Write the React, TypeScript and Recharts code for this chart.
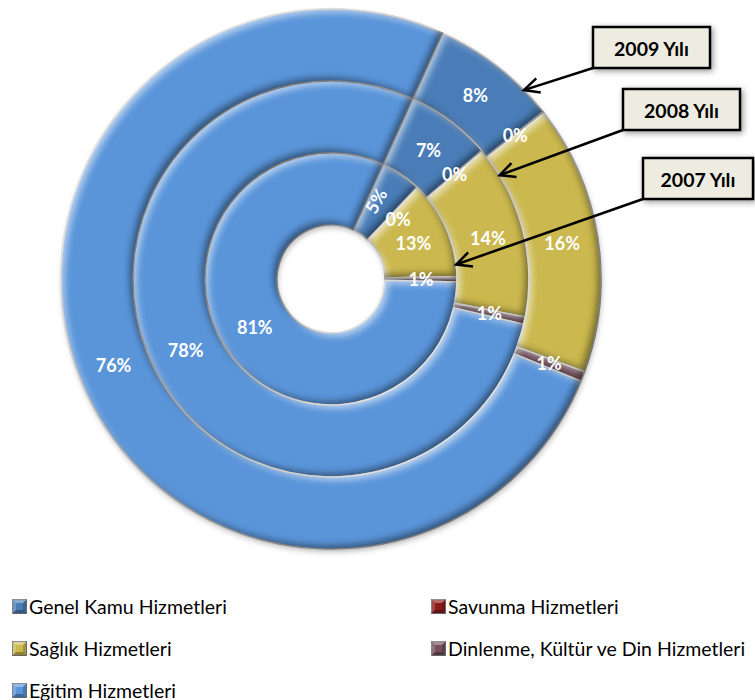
import React from 'react';
import { PieChart, Pie, Cell, Legend } from 'recharts';

// ---- data ----
const categories = [
  'Genel Kamu Hizmetleri',
  'Savunma Hizmetleri',
  'Sağlık Hizmetleri',
  'Dinlenme, Kültür ve Din Hizmetleri',
  'Eğitim Hizmetleri',
];
const values2007 = [5.2, 0.1, 12.6, 0.7, 81.4];
const values2008 = [7.0, 0.1, 14.2, 0.6, 78.1];
const values2009 = [7.6, 0.1, 16.1, 0.6, 75.6];
const yearLabels = ['2007 Yılı', '2008 Yılı', '2009 Yılı'];

// ---- style / layout ----
const colors = ['#4A7DB8', '#8C1A1A', '#CBB84E', '#74505C', '#5A95DA'];
const W = 755;
const H = 700;
const CX = 331;
const CY = 279;
const RINGS = [
  { inner: 54, outer: 126 },
  { inner: 126, outer: 198 },
  { inner: 198, outer: 270 },
];
const START = 90 - 24.4; // first slice begins 24.4deg clockwise from 12 o'clock
const FONT = 'Lato, "Liberation Sans", sans-serif';

const toRows = (vals: number[]) => categories.map((name, i) => ({ name, value: vals[i] }));
const ringData = [toRows(values2007), toRows(values2008), toRows(values2009)];

// callouts: year index, tip angle (deg clockwise from top), box
const callouts = [
  { year: 2, angle: 45.6, box: { x: 593, y: 27, w: 117, h: 41 } },
  { year: 1, angle: 58.4, box: { x: 623, y: 89, w: 117, h: 41 } },
  { year: 0, angle: 83.4, box: { x: 643, y: 158, w: 110, h: 41 } },
];

const RAD = Math.PI / 180;

const renderLabel = (props: any) => {
  const { cx, cy, midAngle, innerRadius, outerRadius, percent, startAngle, endAngle } = props;
  const r = (innerRadius + outerRadius) / 2;
  const pct = Math.round(percent * 100);
  const arc = Math.abs(endAngle - startAngle) * RAD * r;
  const rotate = pct >= 2 && arc < 40;
  const crowded = innerRadius < 100;
  let ang = midAngle;
  if (crowded && rotate) ang += 4; // nudge away from the neighbouring 0% label
  if (crowded && pct === 0 && arc < 1) ang -= 5;
  const x = cx + r * Math.cos(-ang * RAD);
  const y = cy + r * Math.sin(-ang * RAD);
  return (
    <text
      x={x}
      y={y}
      fill="#ffffff"
      textAnchor="middle"
      dominantBaseline="central"
      fontFamily={FONT}
      fontWeight="bold"
      fontSize={18}
      transform={rotate ? `rotate(${-ang} ${x} ${y})` : undefined}
    >
      {pct}%
    </text>
  );
};

const BevelDefs = () => (
  <svg width={0} height={0} style={{ position: 'absolute' }}>
    <defs>
      <filter id="bevel" x="-5%" y="-5%" width="110%" height="110%" colorInterpolationFilters="sRGB">
        <feGaussianBlur in="SourceAlpha" stdDeviation="3.5" result="b" />
        <feOffset in="b" dx="4" dy="4" result="bo1" />
        <feComposite in="SourceAlpha" in2="bo1" operator="out" result="hl" />
        <feFlood floodColor="#ffffff" floodOpacity="0.6" result="fw" />
        <feComposite in="fw" in2="hl" operator="in" result="hlc" />
        <feOffset in="b" dx="-4" dy="-4" result="bo2" />
        <feComposite in="SourceAlpha" in2="bo2" operator="out" result="sh" />
        <feFlood floodColor="#000000" floodOpacity="0.45" result="fb" />
        <feComposite in="fb" in2="sh" operator="in" result="shc" />
        <feMerge>
          <feMergeNode in="SourceGraphic" />
          <feMergeNode in="hlc" />
          <feMergeNode in="shc" />
        </feMerge>
      </filter>
      <filter id="ringShadow" x="-10%" y="-10%" width="120%" height="120%">
        <feGaussianBlur in="SourceAlpha" stdDeviation="3" />
        <feOffset dx="1" dy="3" result="o" />
        <feFlood floodColor="#000" floodOpacity="0.35" />
        <feComposite in2="o" operator="in" />
      </filter>
    </defs>
  </svg>
);

const annulus = (r1: number, r2: number) =>
  `M ${CX - r2} ${CY} a ${r2} ${r2} 0 1 0 ${2 * r2} 0 a ${r2} ${r2} 0 1 0 ${-2 * r2} 0 Z ` +
  `M ${CX - r1} ${CY} a ${r1} ${r1} 0 1 1 ${2 * r1} 0 a ${r1} ${r1} 0 1 1 ${-2 * r1} 0 Z`;

const RingShadow = () => (
  <svg width={W} height={H} style={{ position: 'absolute', left: 0, top: 0 }}>
    <path d={annulus(RINGS[0].inner + 1, RINGS[2].outer - 1)} fill="#888" fillRule="evenodd" filter="url(#ringShadow)" />
  </svg>
);

const Callouts = () => (
  <svg
    width={W}
    height={H}
    style={{ position: 'absolute', left: 0, top: 0, pointerEvents: 'none' }}
  >
    <defs>
      <filter id="boxShadow" x="-20%" y="-30%" width="150%" height="170%">
        <feGaussianBlur in="SourceAlpha" stdDeviation="3" />
        <feOffset dx="2" dy="2" result="o" />
        <feFlood floodColor="#000" floodOpacity="0.4" />
        <feComposite in2="o" operator="in" result="s" />
        <feMerge>
          <feMergeNode in="s" />
          <feMergeNode in="SourceGraphic" />
        </feMerge>
      </filter>
    </defs>
    {callouts.map((c, i) => {
      const ring = RINGS[c.year];
      const tx = CX + ring.outer * Math.sin(c.angle * RAD);
      const ty = CY - ring.outer * Math.cos(c.angle * RAD);
      const sx = c.box.x;
      const sy = c.box.y + c.box.h;
      const ang = Math.atan2(sy - ty, sx - tx);
      const hl = 17;
      const spread = 0.45;
      const a1x = tx + hl * Math.cos(ang + spread);
      const a1y = ty + hl * Math.sin(ang + spread);
      const a2x = tx + hl * Math.cos(ang - spread);
      const a2y = ty + hl * Math.sin(ang - spread);
      return (
        <g key={i}>
          <line x1={sx} y1={sy} x2={tx} y2={ty} stroke="#000" strokeWidth={2.5} />
          <polyline
            points={`${a1x},${a1y} ${tx},${ty} ${a2x},${a2y}`}
            fill="none"
            stroke="#000"
            strokeWidth={2.5}
          />
          <rect
            x={c.box.x}
            y={c.box.y}
            width={c.box.w}
            height={c.box.h}
            fill="#EEECE1"
            stroke="#000"
            strokeWidth={2.5}
            filter="url(#boxShadow)"
          />
          <text
            x={c.box.x + c.box.w / 2}
            y={c.box.y + c.box.h / 2 + 1}
            textAnchor="middle"
            dominantBaseline="central"
            fontFamily={FONT}
            fontWeight="bold"
            fontSize={19.5}
            fill="#000"
          >
            {yearLabels[c.year]}
          </text>
        </g>
      );
    })}
  </svg>
);

const LegendContent = () => (
  <div
    style={{
      display: 'grid',
      gridTemplateColumns: '419px 324px',
      paddingLeft: 12,
      fontFamily: FONT,
      fontSize: 19.5,
      color: '#000',
    }}
  >
    {categories.map((c, i) => (
      <div key={c} style={{ display: 'flex', alignItems: 'center', height: 42 }}>
        <svg width={15} height={15} style={{ marginRight: 2 }}>
          <rect x={0.5} y={0.5} width={14} height={14} fill={colors[i]} stroke="#777" />
          <polygon points="0.5,0.5 14.5,0.5 11,4 4,4" fill="#fff" opacity={0.35} />
          <polygon points="0.5,0.5 4,4 4,11 0.5,14.5" fill="#fff" opacity={0.2} />
          <polygon points="0.5,14.5 4,11 11,11 14.5,14.5" fill="#000" opacity={0.3} />
          <polygon points="14.5,0.5 11,4 11,11 14.5,14.5" fill="#000" opacity={0.2} />
        </svg>
        <span>{c}</span>
      </div>
    ))}
  </div>
);

export default function App() {
  return (
    <div style={{ position: 'absolute', left: 0, top: 0, width: W, height: H, background: '#fff' }}>
      <BevelDefs />
      <RingShadow />
      <div style={{ position: 'absolute', left: 0, top: 0 }}>
        <PieChart width={W} height={H} margin={{ top: 0, right: 0, bottom: 0, left: 0 }}>
          {ringData.map((data, ri) => (
            <Pie
              key={ri}
              data={data}
              dataKey="value"
              nameKey="name"
              cx={CX}
              cy={CY}
              innerRadius={RINGS[ri].inner}
              outerRadius={RINGS[ri].outer}
              startAngle={START}
              endAngle={START - 360}
              stroke="#c8c8c8"
              strokeWidth={1.5}
              label={renderLabel}
              labelLine={false}
              isAnimationActive={false}
            >
              {data.map((d, i) => (
                <Cell key={d.name} fill={colors[i]} style={{ filter: 'url(#bevel)' }} />
              ))}
            </Pie>
          ))}
          <Legend
            verticalAlign="bottom"
            content={() => <LegendContent />}
            wrapperStyle={{ left: 0, top: 585, width: W, bottom: 'auto' }}
          />
        </PieChart>
      </div>
      <Callouts />
    </div>
  );
}
